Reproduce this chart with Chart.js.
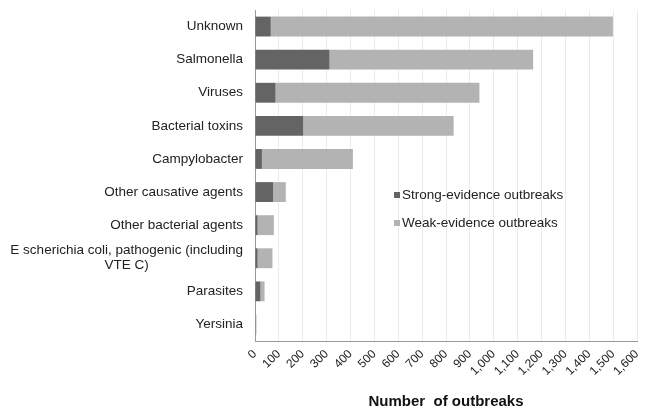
<!DOCTYPE html>
<html>
<head>
<meta charset="utf-8">
<script src="https://cdn.jsdelivr.net/npm/chart.js@4.4.0/dist/chart.umd.min.js"></script>
<style>
  html, body { margin: 0; padding: 0; background: #fff; }
  #wrap { width: 654px; height: 415px; }
</style>
</head>
<body>
<div id="wrap"><canvas id="myChart" width="654" height="415"></canvas></div>
<script>
// categories (multi-line label as array)
const agents = [
  'Unknown',
  'Salmonella',
  'Viruses',
  'Bacterial toxins',
  'Campylobacter',
  'Other causative agents',
  'Other bacterial agents',
  ['E scherichia coli, pathogenic (including', 'VTE C)'],
  'Parasites',
  'Yersinia'
];
const strongEvidence = [66, 312, 86, 202, 29, 76, 11, 11, 23, 3];
const weakEvidence = [1433, 853, 854, 630, 381, 53, 68, 62, 17, 3];
const xTickMax = 1600;
const xTickStep = 100;

const labelFont = '13.5px "Liberation Sans", Arial, sans-serif';

// draws the category labels (wrapped lines centred on each other, block right aligned)
const categoryLabels = {
  id: 'categoryLabels',
  afterDraw(chart) {
    const ctx = chart.ctx;
    const yScale = chart.scales.y;
    const right = yScale.right - 12;
    ctx.save();
    ctx.font = labelFont;
    ctx.fillStyle = '#222';
    ctx.textBaseline = 'middle';
    ctx.textAlign = 'center';
    agents.forEach((lab, i) => {
      const lines = Array.isArray(lab) ? lab : [lab];
      const w = Math.max(...lines.map(l => ctx.measureText(l).width));
      const cx = right - w / 2;
      const cy = yScale.getPixelForTick(i);
      const lh = 15;
      lines.forEach((l, j) => {
        ctx.fillText(l, cx, cy + (j - (lines.length - 1) / 2) * lh);
      });
    });
    ctx.restore();
  }
};

// legend drawn inside the plot area
const innerLegend = {
  id: 'innerLegend',
  afterDraw(chart) {
    const ctx = chart.ctx;
    ctx.save();
    ctx.font = labelFont;
    ctx.textBaseline = 'middle';
    chart.data.datasets.forEach((ds, i) => {
      const y = 195 + i * 28;
      ctx.fillStyle = ds.backgroundColor;
      ctx.fillRect(394, y - 3, 6, 6);
      ctx.fillStyle = '#222';
      ctx.fillText(ds.label, 402, y);
    });
    ctx.restore();
  }
};

function createChart() {
  const ctx = document.getElementById('myChart').getContext('2d');

  const myChart = new Chart(ctx, {
    type: 'bar',
    data: {
      labels: agents,
      datasets: [{
        label: 'Strong-evidence outbreaks',
        data: strongEvidence,
        backgroundColor: '#646464',
        borderWidth: 0
      }, {
        label: 'Weak-evidence outbreaks',
        data: weakEvidence,
        backgroundColor: '#b3b3b3',
        borderWidth: 0
      }]
    },
    options: {
      indexAxis: 'y',
      responsive: false,
      animation: false,
      barPercentage: 0.6,
      categoryPercentage: 1,
      layout: {
        padding: { top: 10, right: 17, bottom: 0, left: 0 }
      },
      scales: {
        x: {
          stacked: true,
          min: 0,
          max: xTickMax,
          afterFit: (scale) => { scale.height = 74; },
          grid: {
            color: '#ebebeb',
            drawTicks: false
          },
          border: { color: '#9a9a9a' },
          ticks: {
            stepSize: xTickStep,
            autoSkip: false,
            minRotation: 45,
            maxRotation: 45,
            padding: 6,
            color: '#222',
            font: { family: '"Liberation Sans", Arial, sans-serif', size: 12 }
          },
          title: {
            display: true,
            text: 'Number  of outbreaks',
            color: '#111',
            padding: { top: 6, bottom: 4 },
            font: { family: '"Liberation Sans", Arial, sans-serif', size: 15, weight: 'bold' }
          }
        },
        y: {
          stacked: true,
          afterFit: (scale) => { scale.width = 255; },
          grid: { display: false, drawTicks: false },
          border: { color: '#9a9a9a' },
          ticks: { display: false }
        }
      },
      plugins: {
        legend: { display: false },
        tooltip: { enabled: false }
      }
    },
    plugins: [categoryLabels, innerLegend]
  });
}

createChart();
</script>
</body>
</html>
